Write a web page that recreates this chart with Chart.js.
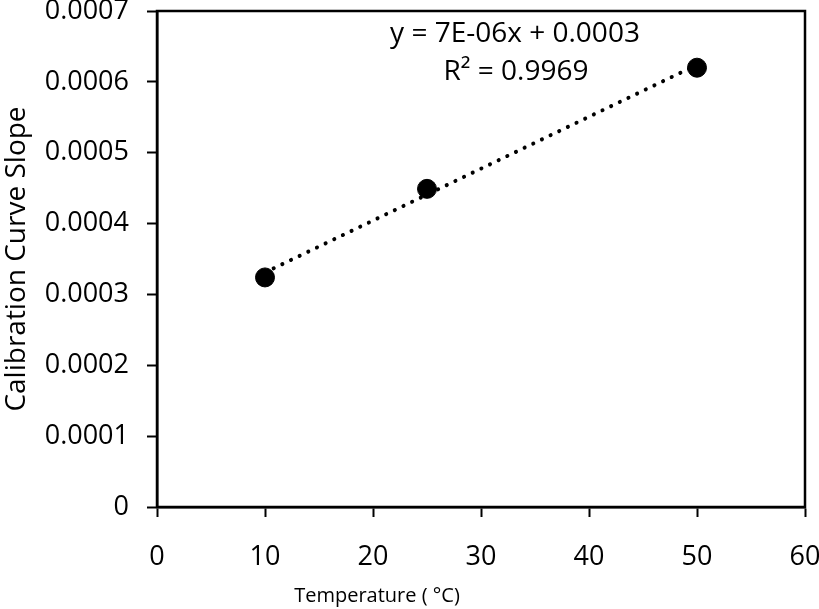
<!DOCTYPE html>
<html>
<head>
<meta charset="utf-8">
<script src="https://cdn.jsdelivr.net/npm/chart.js@4"></script>
<style>
  html, body { margin: 0; padding: 0; background: #fff; }
  #wrap { width: 819px; height: 609px; }
</style>
</head>
<body>
<div id="wrap"><canvas id="myChart" width="819" height="609"></canvas></div>
<script>
// data dari grafik
const temperatures = [10, 25, 50];
const slopes = [0.000324, 0.000449, 0.00062];
// garis tren (ujung kiri dan kanan)
const trendX = [10, 50];
const trendY = [0.000331, 0.000624];
const xTickLabels = ["0", "10", "20", "30", "40", "50", "60"];
const yTickLabels = ["0", "0.0001", "0.0002", "0.0003", "0.0004", "0.0005", "0.0006", "0.0007"];
const equationText = "y = 7E-06x + 0.0003";
const r2Text = "R\u00B2 = 0.9969";

const FONT = "'Open Sans', sans-serif";

// plugin: kotak area plot, persamaan tren, judul sumbu x
const extras = {
    id: "extras",
    afterDraw(chart) {
        const ctx = chart.ctx;
        const a = chart.chartArea;
        ctx.save();
        ctx.strokeStyle = "#000";
        ctx.lineWidth = 2.5;
        ctx.strokeRect(a.left, a.top, a.right - a.left, a.bottom - a.top);

        ctx.fillStyle = "#000";
        ctx.textAlign = "center";
        ctx.textBaseline = "alphabetic";
        ctx.font = "28px " + FONT;
        ctx.fillText(equationText, 515, 42);
        ctx.fillText(r2Text, 516, 80);

        ctx.font = "20px " + FONT;
        ctx.fillText("Temperature ( \u00B0C)", 377, 602);
        ctx.restore();
    },
};

const ctx = document.getElementById("myChart");
new Chart(ctx, {
    type: "scatter",
    data: {
        datasets: [
            {
                label: "Trend",
                type: "line",
                data: trendX.map((x, i) => ({ x: x, y: trendY[i] })),
                borderColor: "#000",
                borderWidth: 4,
                borderDash: [0.1, 9.5],
                borderCapStyle: "round",
                pointRadius: 0,
                fill: false,
                order: 2,
            },
            {
                label: "Slope",
                data: temperatures.map((x, i) => ({ x: x, y: slopes[i] })),
                backgroundColor: "#000",
                borderColor: "#000",
                pointRadius: 9.5,
                pointHoverRadius: 9.5,
                order: 1,
            },
        ],
    },
    options: {
        responsive: false,
        animation: false,
        layout: { padding: { top: 11, right: 14, left: 0, bottom: 0 } },
        plugins: {
            legend: { display: false },
            tooltip: { enabled: false },
        },
        scales: {
            x: {
                type: "linear",
                min: 0,
                max: 60,
                ticks: {
                    stepSize: 10,
                    color: "#000",
                    padding: 24,
                    font: { family: FONT, size: 27 },
                    callback: (v, i) => xTickLabels[i],
                },
                grid: {
                    drawOnChartArea: false,
                    tickLength: 10,
                    tickWidth: 2,
                    color: "#000",
                },
                border: { color: "#000", width: 2.5 },
                afterFit: (s) => {
                    s.height = 102;
                    s.paddingLeft = 0;
                    s.paddingRight = 0;
                },
            },
            y: {
                type: "linear",
                min: 0,
                max: 0.0007,
                ticks: {
                    stepSize: 0.0001,
                    color: "#000",
                    padding: 18,
                    font: { family: FONT, size: 27 },
                    callback: (v, i) => yTickLabels[i],
                },
                grid: {
                    drawOnChartArea: false,
                    tickLength: 10,
                    tickWidth: 2,
                    color: "#000",
                },
                border: { color: "#000", width: 2.5 },
                title: {
                    display: true,
                    text: "Calibration Curve Slope",
                    color: "#000",
                    font: { family: FONT, size: 28 },
                    padding: { top: 0, bottom: 0 },
                },
                afterFit: (s) => {
                    s.width = 157;
                    s.paddingTop = 0;
                    s.paddingBottom = 0;
                },
            },
        },
    },
    plugins: [extras],
});
</script>
</body>
</html>
